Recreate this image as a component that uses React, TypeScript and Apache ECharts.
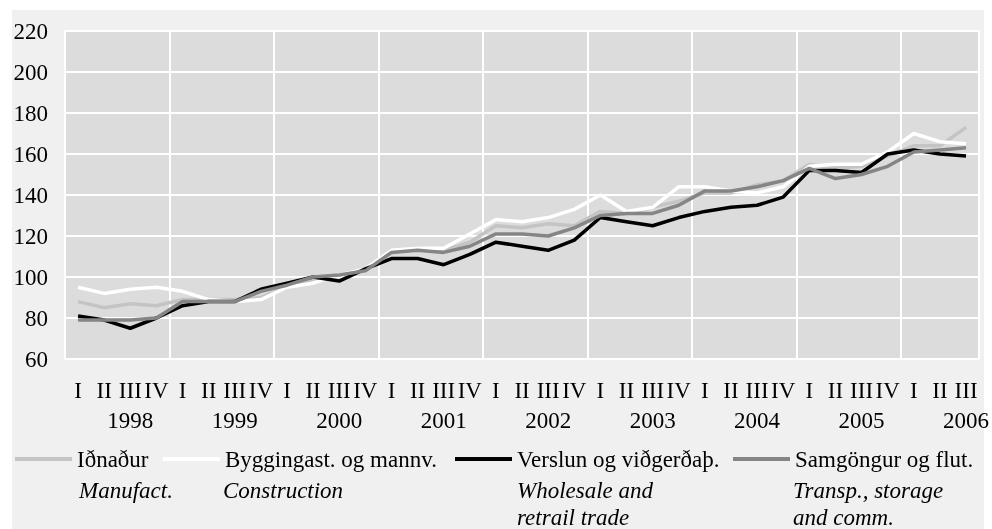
import React, { useEffect, useRef } from 'react';
import * as echarts from 'echarts';

// ---- Data ----
const years = ['1998', '1999', '2000', '2001', '2002', '2003', '2004', '2005', '2006'];
const quarters = ['I', 'II', 'III', 'IV'];
const quartersInLastYear = 3;

const categories: string[] = [];
years.forEach((y, yi) => {
  const n = yi === years.length - 1 ? quartersInLastYear : quarters.length;
  for (let q = 0; q < n; q++) categories.push(`${y} ${quarters[q]}`);
});

const idnadur = [88, 85, 87, 86, 89, 89, 89, 90, 95, 99, 101, 104, 112, 114, 113, 117, 125, 124, 126, 125, 132, 131, 134, 137, 141, 141, 145, 147, 155, 153, 154, 159, 164, 164, 173];
const byggingast = [95, 92, 94, 95, 93, 89, 88, 89, 95, 97, 101, 104, 113, 114, 114, 121, 128, 127, 129, 133, 140, 132, 134, 144, 144, 142, 141, 144, 154, 155, 155, 161, 170, 166, 165];
const verslun = [81, 79, 75, 80, 86, 88, 88, 94, 97, 100, 98, 104, 109, 109, 106, 111, 117, 115, 113, 118, 129, 127, 125, 129, 132, 134, 135, 139, 152, 152, 151, 160, 162, 160, 159];
const samgongur = [79, 79, 79, 80, 88, 88, 88, 93, 96, 100, 101, 103, 112, 113, 112, 115, 121, 121, 120, 124, 130, 131, 131, 135, 142, 142, 144, 147, 153, 148, 150, 154, 161, 162, 163];

const seriesNames = ['Iðnaður', 'Byggingast. og mannv.', 'Verslun og viðgerðaþ.', 'Samgöngur og flut.'];
const seriesSubtitles = ['Manufact.', 'Construction', 'Wholesale and\nretrail trade', 'Transp., storage\nand comm.'];
const seriesColors = ['#c4c4c4', '#ffffff', '#000000', '#858585'];
const seriesData = [idnadur, byggingast, verslun, samgongur];

const yTicks = { min: 60, max: 220, interval: 20 };

const FONT = '"Liberation Serif", "Times New Roman", serif';
const FS = 23;

// legend layout (positions only)
const legendLeft = [15, 163, 455, 733];
const subtitleLeft = [79, 223, 517, 793];
const legendCenterY = 459;
const subtitleLineHeight = 27;
const subtitleFirstCenterY = 490;

export default function App() {
  const ref = useRef<HTMLDivElement>(null);
  useEffect(() => {
    if (!ref.current) return;
    const chart = echarts.init(ref.current, undefined, { renderer: 'svg' });
    const option: any = {
      animation: false,
      textStyle: { fontFamily: FONT },
      graphic: [
        {
          type: 'rect',
          z: -100,
          silent: true,
          shape: { x: 12, y: 10, width: 972, height: 519 },
          style: { fill: '#f0f0f0' },
        },
        ...seriesSubtitles.map((t, i) => ({
          type: 'text',
          left: subtitleLeft[i],
          top: subtitleFirstCenterY - subtitleLineHeight / 2,
          style: {
            text: t,
            fontFamily: FONT,
            fontSize: FS,
            fontStyle: 'italic',
            lineHeight: subtitleLineHeight,
            fill: '#000',
          },
        })),
      ],
      grid: {
        left: 65,
        right: 10,
        top: 31,
        bottom: 170,
        show: true,
        backgroundColor: '#dcdcdc',
        borderWidth: 0,
      },
      legend: seriesNames.map((n, i) => ({
        data: [n],
        left: legendLeft[i],
        top: legendCenterY - 12,
        padding: 0,
        icon: 'rect',
        itemWidth: 57,
        itemHeight: 4,
        selectedMode: false,
        textStyle: { fontFamily: FONT, fontSize: FS, color: '#000', lineHeight: 24 },
      })),
      xAxis: [
        {
          type: 'category',
          data: categories,
          boundaryGap: true,
          axisLine: { show: false },
          axisTick: { show: false },
          axisLabel: {
            interval: 0,
            margin: 20,
            fontFamily: FONT,
            fontSize: FS,
            color: '#000',
            formatter: (v: string) => v.split(' ')[1],
          },
          splitLine: {
            show: true,
            interval: (index: number) => index % 4 === 0,
            lineStyle: { color: '#ffffff', width: 2 },
          },
        },
        {
          type: 'category',
          data: categories,
          position: 'bottom',
          offset: 30,
          boundaryGap: true,
          axisLine: { show: false },
          axisTick: { show: false },
          splitLine: { show: false },
          axisLabel: {
            interval: 0,
            margin: 20,
            fontFamily: FONT,
            fontSize: FS,
            color: '#000',
            formatter: (v: string) => {
              const [y, q] = v.split(' ');
              return q === 'III' ? y : '';
            },
          },
        },
      ],
      yAxis: {
        type: 'value',
        min: yTicks.min,
        max: yTicks.max,
        interval: yTicks.interval,
        axisLine: { show: false },
        axisTick: { show: false },
        axisLabel: { margin: 17, fontFamily: FONT, fontSize: FS, color: '#000' },
        splitLine: { show: true, lineStyle: { color: '#ffffff', width: 2 } },
      },
      series: seriesNames.map((n, i) => ({
        name: n,
        type: 'line',
        data: seriesData[i],
        xAxisIndex: 0,
        symbol: 'none',
        color: seriesColors[i],
        lineStyle: { color: seriesColors[i], width: 3.5 },
        itemStyle: { color: seriesColors[i] },
      })),
    };
    chart.setOption(option);
    return () => chart.dispose();
  }, []);
  return <div ref={ref} style={{ position: 'fixed', left: 0, top: 0, width: 992, height: 529 }} />;
}
